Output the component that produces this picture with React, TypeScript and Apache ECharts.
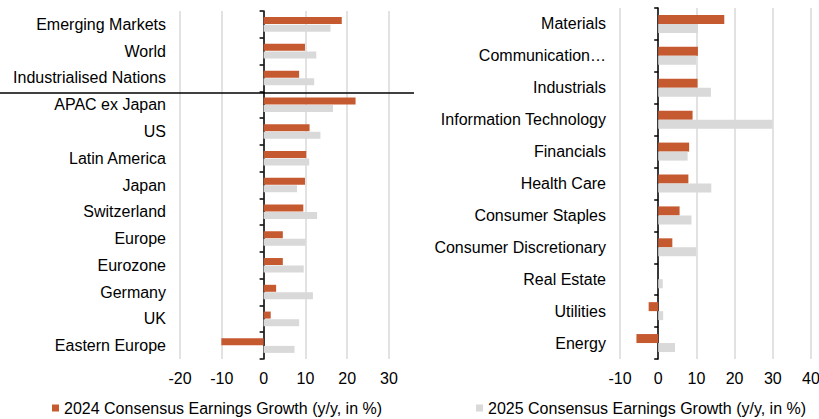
import React, { useEffect, useRef } from 'react';
import * as echarts from 'echarts';

const SERIES_2024 = '2024 Consensus Earnings Growth (y/y, in %)';
const SERIES_2025 = '2025 Consensus Earnings Growth (y/y, in %)';

const regions = [
  'Emerging Markets', 'World', 'Industrialised Nations', 'APAC ex Japan', 'US',
  'Latin America', 'Japan', 'Switzerland', 'Europe', 'Eurozone', 'Germany', 'UK', 'Eastern Europe',
];
const regions2024 = [18.7, 9.9, 8.5, 22.0, 11.0, 10.2, 9.9, 9.5, 4.6, 4.6, 3.0, 1.7, -10.1];
const regions2025 = [16.0, 12.6, 12.1, 16.6, 13.6, 10.9, 8.0, 12.8, 10.1, 9.6, 11.8, 8.5, 7.4];

const sectors = [
  'Materials', 'Communication…', 'Industrials', 'Information Technology', 'Financials',
  'Health Care', 'Consumer Staples', 'Consumer Discretionary', 'Real Estate', 'Utilities', 'Energy',
];
const sectors2024 = [17.3, 10.4, 10.3, 9.0, 8.1, 7.9, 5.6, 3.7, 0, -2.5, -5.7];
const sectors2025 = [10.4, 9.9, 13.8, 29.9, 7.7, 13.9, 8.7, 9.9, 1.2, 1.3, 4.4];

const leftRange = { min: -20, max: 30, interval: 10 };
const rightRange = { min: -10, max: 40, interval: 10 };

const ORANGE = '#C55A30';
const GREY = '#D9D9D9';
const FONT = '"Liberation Sans", Arial, sans-serif';
const FS = 16;

export default function App() {
  const ref = useRef<HTMLDivElement>(null);
  useEffect(() => {
    if (!ref.current) return;
    const chart = echarts.init(ref.current, undefined, { renderer: 'svg' });
    const xAxisCommon = (r: { min: number; max: number; interval: number }, gridIndex: number) => ({
      type: 'value' as const,
      gridIndex,
      min: r.min,
      max: r.max,
      interval: r.interval,
      axisLine: { show: false },
      axisTick: { show: false },
      axisLabel: { color: '#000', fontSize: FS, fontFamily: FONT, margin: 11 },
      splitLine: { show: true, lineStyle: { color: '#D9D9D9', width: 1.5 } },
    });
    const yAxisCommon = (data: string[], gridIndex: number, margin: number) => ({
      type: 'category' as const,
      gridIndex,
      data,
      inverse: true,
      axisLine: { show: true, onZero: true, lineStyle: { color: '#000', width: 1.5 } },
      axisTick: { show: true, length: 4, lineStyle: { color: '#000', width: 1.5 } },
      axisLabel: { color: '#000', fontSize: FS, fontFamily: FONT, margin, interval: 0 },
      splitLine: { show: false },
    });
    chart.setOption({
      animation: false,
      textStyle: { fontFamily: FONT },
      grid: [
        { left: 180, top: 11, width: 209, height: 348, containLabel: false, outerBoundsMode: 'none' },
        { left: 620, top: 8, width: 191, height: 351, containLabel: false, outerBoundsMode: 'none' },
      ],
      xAxis: [xAxisCommon(leftRange, 0), xAxisCommon(rightRange, 1)],
      yAxis: [yAxisCommon(regions, 0, 14), yAxisCommon(sectors, 1, 14)],
      legend: [
        {
          data: [SERIES_2024],
          left: 52,
          top: 400,
          padding: 0,
          itemWidth: 7,
          itemHeight: 7,
          icon: 'rect',
          textStyle: { color: '#000', fontSize: FS, fontFamily: FONT },
        },
        {
          data: [SERIES_2025],
          left: 476,
          top: 400,
          padding: 0,
          itemWidth: 7,
          itemHeight: 7,
          icon: 'rect',
          textStyle: { color: '#000', fontSize: FS, fontFamily: FONT },
        },
      ],
      graphic: [
        {
          type: 'line',
          shape: { x1: 0, y1: 93, x2: 414, y2: 93 },
          style: { stroke: '#000', lineWidth: 1.5 },
          z: 100,
        },
      ],
      series: [
        {
          name: SERIES_2024, type: 'bar', xAxisIndex: 0, yAxisIndex: 0, data: regions2024,
          barWidth: 7, barGap: '8%', itemStyle: { color: ORANGE },
        },
        {
          name: SERIES_2025, type: 'bar', xAxisIndex: 0, yAxisIndex: 0, data: regions2025,
          barWidth: 7, barGap: '8%', itemStyle: { color: GREY },
        },
        {
          name: SERIES_2024, type: 'bar', xAxisIndex: 1, yAxisIndex: 1, data: sectors2024,
          barWidth: 9, barGap: '0%', itemStyle: { color: ORANGE },
        },
        {
          name: SERIES_2025, type: 'bar', xAxisIndex: 1, yAxisIndex: 1, data: sectors2025,
          barWidth: 9, barGap: '0%', itemStyle: { color: GREY },
        },
      ],
    });
    return () => chart.dispose();
  }, []);
  return (
    <div
      ref={ref}
      style={{ position: 'fixed', left: 0, top: 0, width: 819, height: 419, background: '#fff' }}
    />
  );
}
